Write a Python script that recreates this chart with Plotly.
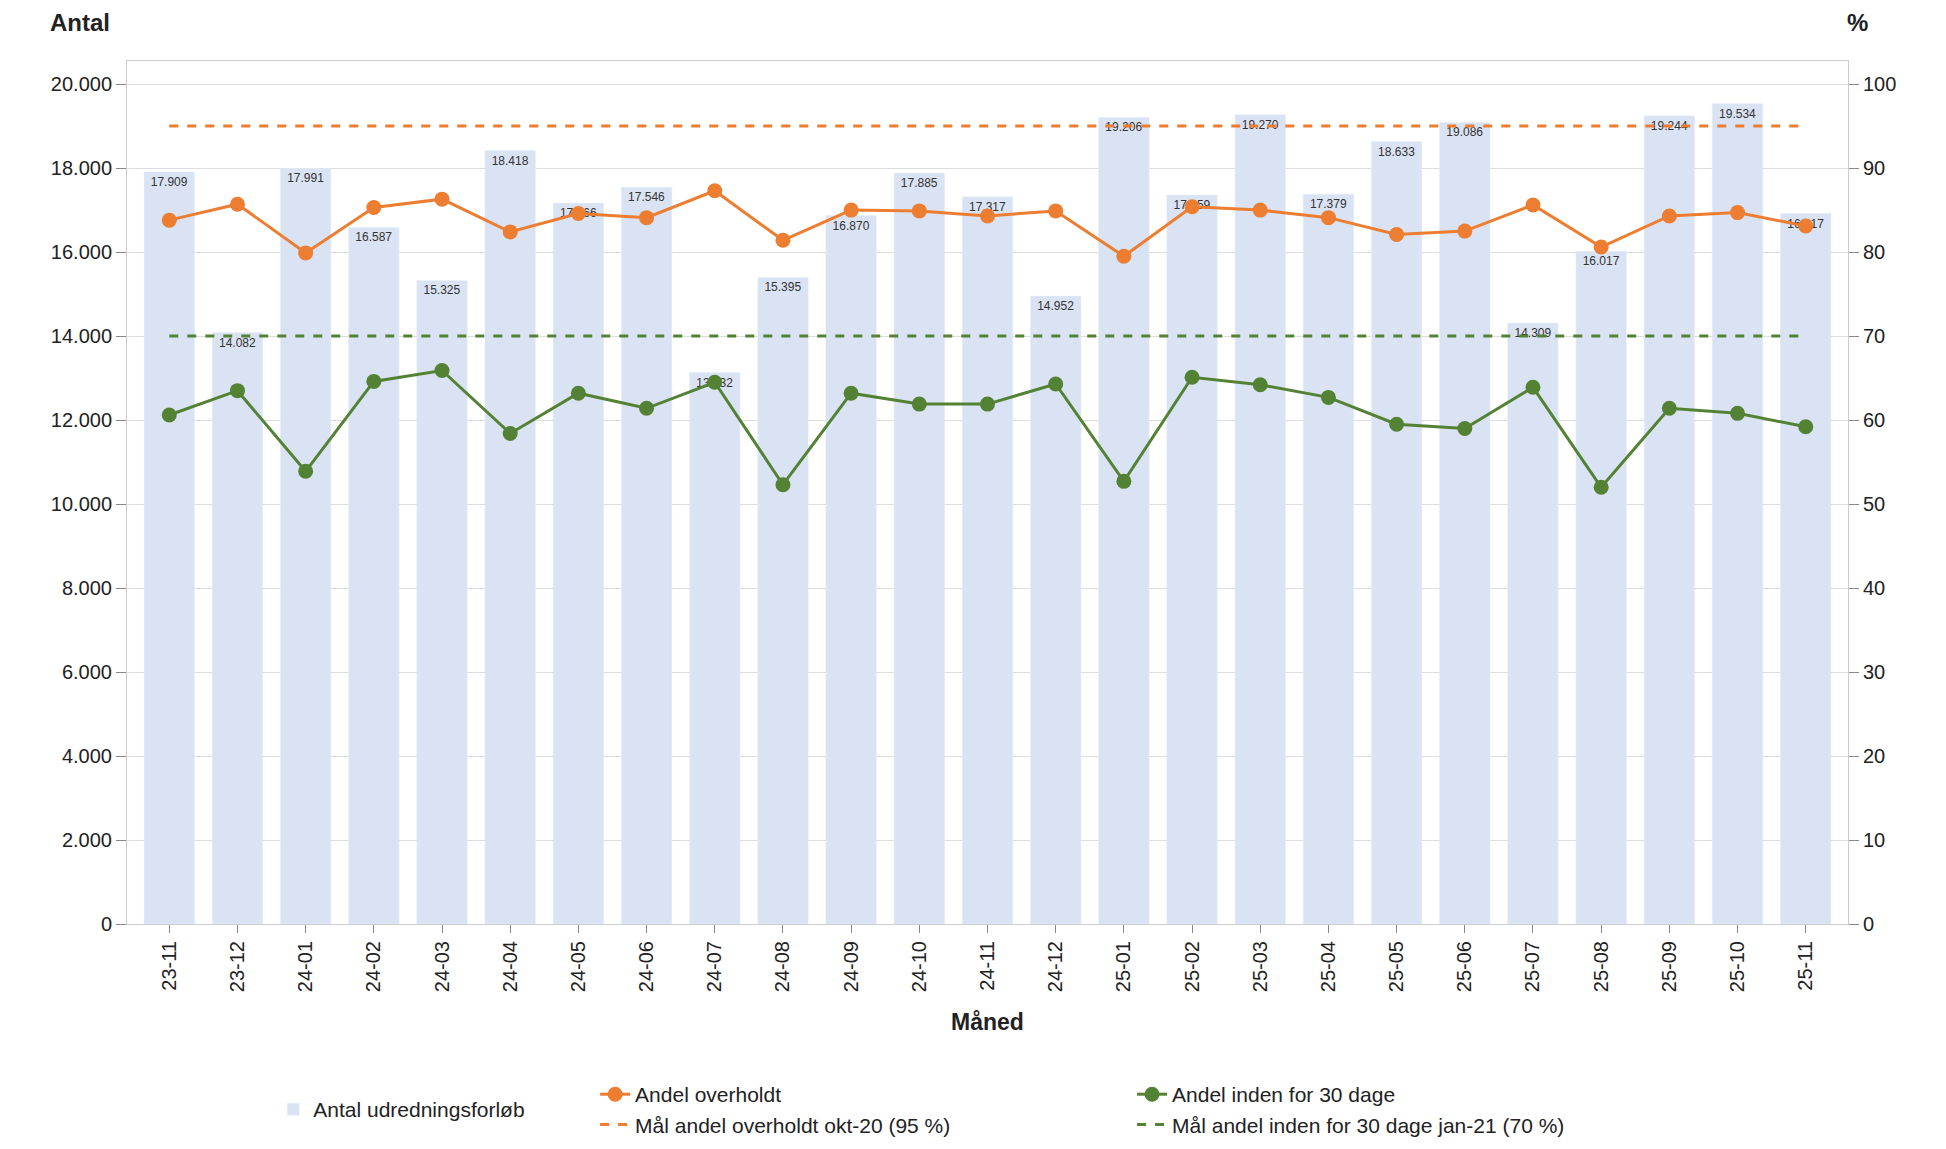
import plotly.graph_objects as go

months = ["23-11","23-12","24-01","24-02","24-03","24-04","24-05","24-06","24-07","24-08","24-09","24-10","24-11","24-12",
          "25-01","25-02","25-03","25-04","25-05","25-06","25-07","25-08","25-09","25-10","25-11"]
antal = [17909,14082,17991,16587,15325,18418,17166,17546,13132,15395,16870,17885,17317,14952,
         19206,17359,19270,17379,18633,19086,14309,16017,19244,19534,16917]
overholdt = [83.8,85.7,79.9,85.3,86.3,82.4,84.6,84.1,87.3,81.4,85.0,84.9,84.3,84.9,
             79.5,85.4,85.0,84.1,82.1,82.5,85.6,80.6,84.3,84.7,83.1]
inden30 = [60.6,63.5,53.9,64.6,65.9,58.4,63.2,61.4,64.5,52.3,63.2,61.9,61.9,64.3,
           52.7,65.1,64.2,62.7,59.5,59.0,63.9,52.0,61.4,60.8,59.2]
maal_overholdt = 95
maal_inden30 = 70

ORANGE = "#ED7D31"
GREEN = "#548235"
BAR = "#DAE3F3"
FONT = "Liberation Sans"

labels = [f"{v:,}".replace(",", ".") for v in antal]

fig = go.Figure()
fig.add_trace(go.Bar(x=months, y=antal, name="Antal udredningsforløb", marker_color=BAR,
                     text=labels, textposition="inside", insidetextanchor="end",
                     textfont=dict(size=12, color="#333333"), textangle=0,
                     width=0.74, legend="legend", showlegend=True))
fig.add_trace(go.Scatter(x=months, y=overholdt, name="Andel overholdt", yaxis="y2", mode="lines+markers",
                         line=dict(color=ORANGE, width=3), marker=dict(size=15, color=ORANGE), legend="legend2"))
fig.add_trace(go.Scatter(x=months, y=[maal_overholdt]*len(months), name="Mål andel overholdt okt-20 (95 %)",
                         yaxis="y2", mode="lines", line=dict(color=ORANGE, width=3, dash="dash"), legend="legend2"))
fig.add_trace(go.Scatter(x=months, y=inden30, name="Andel inden for 30 dage", yaxis="y2", mode="lines+markers",
                         line=dict(color=GREEN, width=3), marker=dict(size=15, color=GREEN), legend="legend3"))
fig.add_trace(go.Scatter(x=months, y=[maal_inden30]*len(months), name="Mål andel inden for 30 dage jan-21 (70 %)",
                         yaxis="y2", mode="lines", line=dict(color=GREEN, width=3, dash="dash"), legend="legend3"))

fig.update_layout(
    width=1946, height=1149, plot_bgcolor="white", paper_bgcolor="white",
    font=dict(family=FONT, size=20, color="#222222"),
    margin=dict(l=119, r=106, t=53, b=209),
    showlegend=True,
    xaxis=dict(type="category", range=[-0.62, 24.62], tickangle=-90, ticks="outside", ticklen=8, tickcolor="#888",
               showline=True, linecolor="#ccc", mirror=True, tickfont=dict(size=20), showgrid=False, automargin=False,
               title=dict(text="<b>Måned</b>", font=dict(size=23), standoff=22)),
    yaxis=dict(range=[0, 20550], tickvals=list(range(0, 20001, 2000)),
               ticktext=[f"{v:,}".replace(",", ".") for v in range(0, 20001, 2000)],
               ticks="outside", ticklen=10, tickcolor="#888", gridcolor="#dddddd", showline=True,
               linecolor="#ccc", zeroline=False, tickfont=dict(size=20), automargin=False),
    yaxis2=dict(overlaying="y", side="right", range=[0, 102.75], tickvals=list(range(0, 101, 10)),
                ticks="outside", ticklen=10, tickcolor="#888", showgrid=False, showline=True,
                linecolor="#ccc", zeroline=False, tickfont=dict(size=20), automargin=False),
    legend=dict(x=0.085, y=-0.215, xanchor="left", yanchor="middle", font=dict(size=21), bgcolor="rgba(0,0,0,0)"),
    legend2=dict(x=0.272, y=-0.215, xanchor="left", yanchor="middle", font=dict(size=21), tracegroupgap=0,
                 bgcolor="rgba(0,0,0,0)"),
    legend3=dict(x=0.584, y=-0.215, xanchor="left", yanchor="middle", font=dict(size=21), tracegroupgap=0,
                 bgcolor="rgba(0,0,0,0)"),
    annotations=[
        dict(text="<b>Antal</b>", xref="paper", yref="paper", x=-0.046, y=1.062, showarrow=False,
             xanchor="left", yanchor="top", font=dict(size=24)),
        dict(text="<b>%</b>", xref="paper", yref="paper", x=1.013, y=1.062, showarrow=False,
             xanchor="right", yanchor="top", font=dict(size=24)),
    ],
)
fig.write_html("out.html")
